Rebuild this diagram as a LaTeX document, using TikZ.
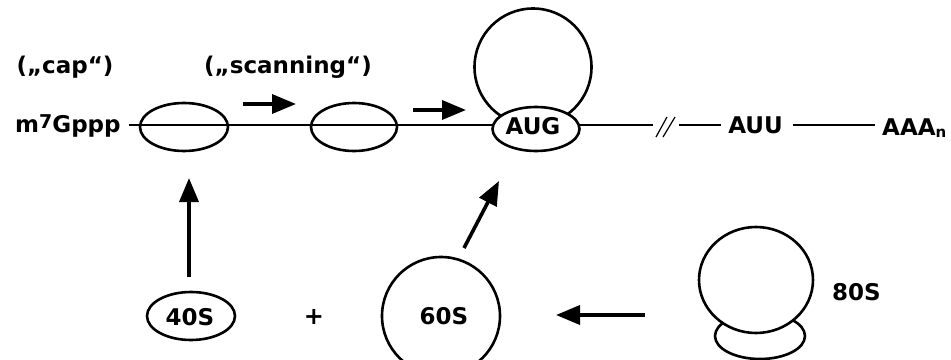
\documentclass[tikz,border=0pt]{standalone}
\usepackage{fontspec}
\setmainfont{DejaVu Sans}
\usetikzlibrary{shapes.geometric,arrows.meta}
\tikzset{
  lbl/.style={inner sep=0pt, anchor=base, font=\fontsize{23}{27}\selectfont\bfseries},
  ring/.style={draw, line width=2.6pt, inner sep=0pt},
  oval/.style={ring, ellipse},
  ball/.style={ring, circle},
  thinline/.style={line width=1.4pt},
  bigarrow/.style={line width=3.6pt, -{Triangle[length=24pt,width=19pt]}},
}
\begin{document}
\begin{tikzpicture}[x=1pt,y=-1pt]
\useasboundingbox (0,0) rectangle (951,359);
\clip (0,0) rectangle (951,359);
% top labels
\node[lbl] (cap) at (65,73) {(„cap“)};
\node[lbl] (scan) at (288,73) {(„scanning“)};
\node[lbl, anchor=base west] (m7) at (15,132) {m\raisebox{4pt}{\fontsize{19}{19}\selectfont 7}Gppp};
% mRNA line (covered by the AUG subunit)
\coordinate (start) at (129,125);
\coordinate (brk1) at (653,125);
\draw[thinline] (start) -- (brk1);
% ribosome at AUG
\node[ball, minimum size=117pt] (big) at (533,67) {};
\node[oval, fill=white, minimum width=87pt, minimum height=44pt] (aug) at (536,129) {};
\node[lbl] (augt) at (533,134) {AUG};
% small subunits on mRNA
\node[oval, minimum width=88pt, minimum height=48pt] (e1) at (184,127) {};
\node[oval, minimum width=86pt, minimum height=48pt] (e2) at (354,127) {};
% break and 3' part
\coordinate (s1a) at (656,137); \coordinate (s1b) at (667,117);
\coordinate (s2a) at (663,137); \coordinate (s2b) at (675,117);
\draw[line width=1.2pt] (s1a) -- (s1b);
\draw[line width=1.2pt] (s2a) -- (s2b);
\node[lbl] (auu) at (755.5,133) {AUU};
\node[lbl, anchor=base west] (aaa) at (882,135.5) {AAA\raisebox{-1.5pt}{\fontsize{15}{15}\selectfont n}};
\coordinate (l2a) at (679,125); \coordinate (l2b) at (721,125);
\draw[thinline] (l2a) -- (l2b);
\coordinate (l3a) at (793,125); \coordinate (l3b) at (875,125);
\draw[thinline] (l3a) -- (l3b);
% scanning arrows
\coordinate (a1s) at (243,104); \coordinate (a1e) at (296,104);
\coordinate (a2s) at (413,110); \coordinate (a2e) at (466,110);
\draw[bigarrow] (a1s) -- (a1e);
\draw[bigarrow] (a2s) -- (a2e);
% bottom row
\node[oval, minimum width=88pt, minimum height=48pt] (s40) at (191,316) {};
\node[lbl] (s40t) at (190,325) {40S};
\node[font=\fontsize{24}{28}\selectfont\bfseries, inner sep=0pt] (plus) at (314,317) {+};
\node[ball, minimum size=118pt] (s60) at (441,316) {};
\node[lbl] (s60t) at (444,324) {60S};
\node[oval, minimum width=90pt, minimum height=46pt] (s80b) at (760,336) {};
\node[oval, fill=white, minimum width=114pt, minimum height=106pt] (s80) at (756,280) {};
\node[lbl] (s80t) at (856.5,300) {80S};
% pathway arrows
\coordinate (v1s) at (189,277); \coordinate (v1e) at (189,178);
\draw[bigarrow] (v1s) -- (v1e);
\coordinate (d1s) at (464,248); \coordinate (d1e) at (499,181);
\draw[bigarrow] (d1s) -- (d1e);
\coordinate (h1s) at (645,315); \coordinate (h1e) at (556,315);
\draw[bigarrow] (h1s) -- (h1e);
\end{tikzpicture}
\end{document}
